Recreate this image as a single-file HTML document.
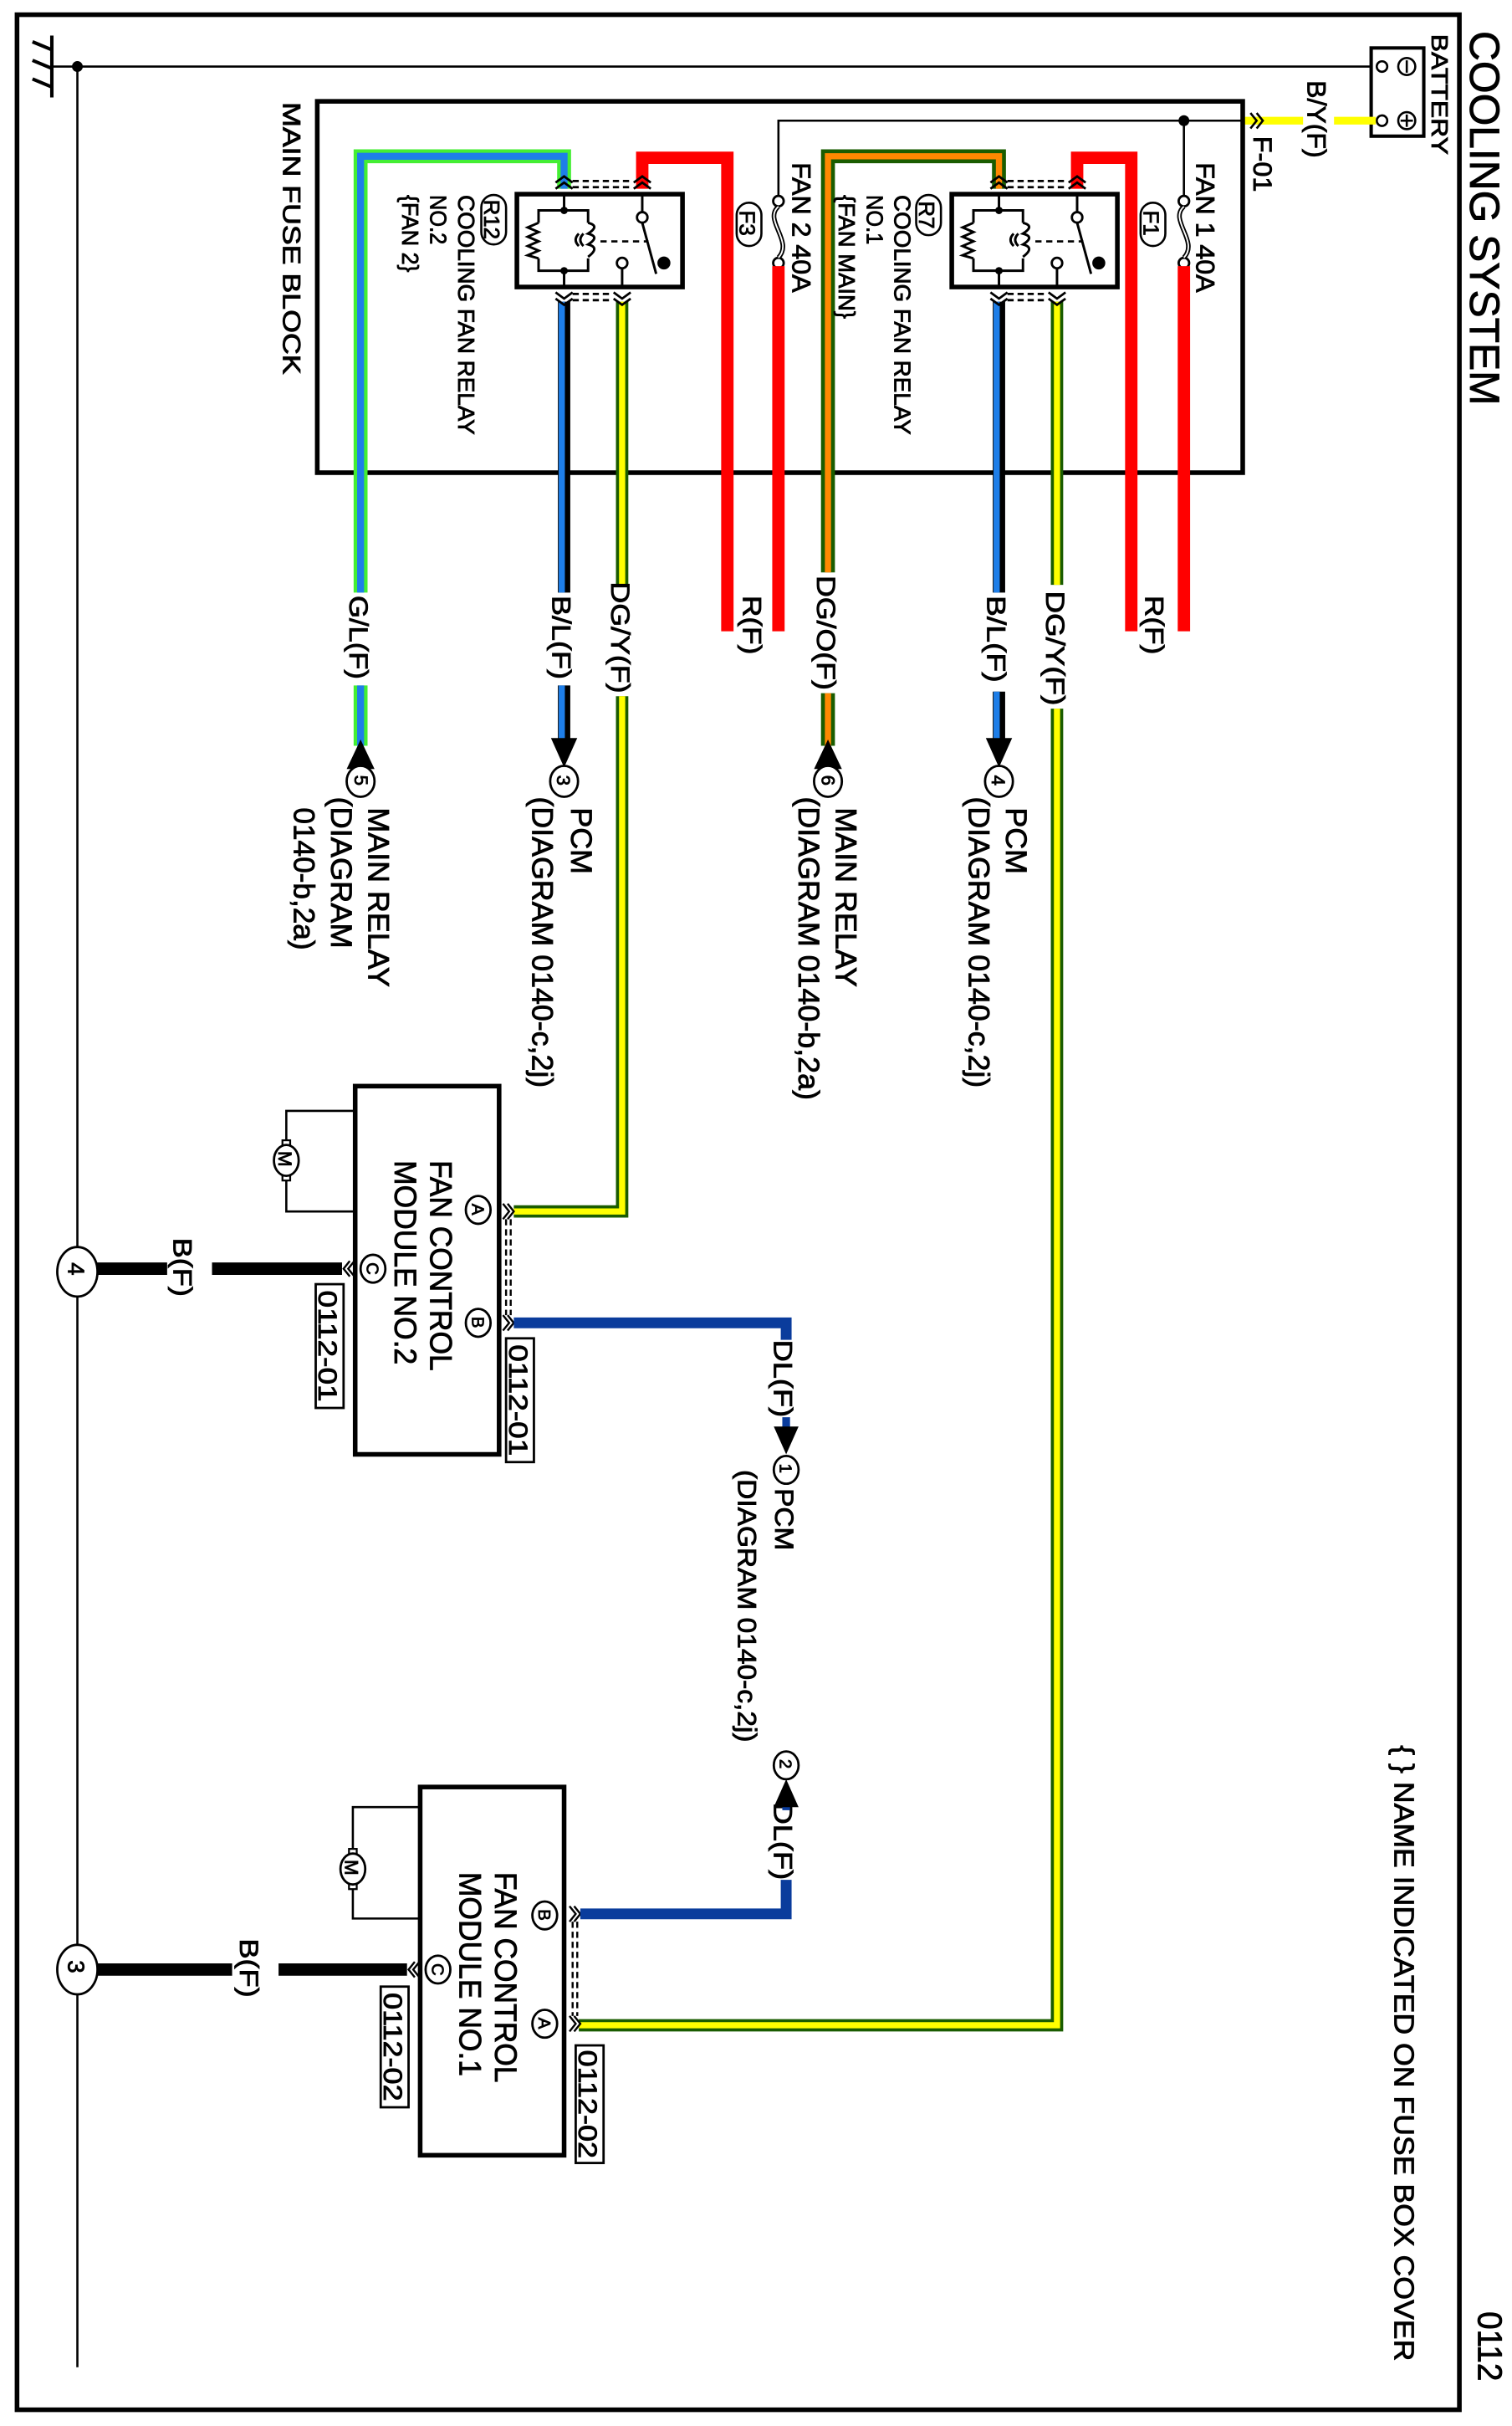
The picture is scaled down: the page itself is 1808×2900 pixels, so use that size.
<!DOCTYPE html>
<html><head><meta charset="utf-8"><style>
html,body{margin:0;padding:0;background:#fff;}
svg{display:block;}
text{font-family:"Liberation Sans",Arial,sans-serif;fill:#000;stroke:#000;stroke-width:0.45px;}
</style></head><body>
<svg width="1808" height="2900" viewBox="0 0 977 1568" preserveAspectRatio="none" xmlns="http://www.w3.org/2000/svg">
<defs>
<g id="relay">
  <rect x="615" y="125.5" width="107" height="60" fill="#fff" stroke="#000" stroke-width="3"/>
  <line x1="645.5" y1="125" x2="645.5" y2="136" stroke="#000" stroke-width="1.6"/>
  <line x1="645.5" y1="175" x2="645.5" y2="186" stroke="#000" stroke-width="1.6"/>
  <polyline points="629,144 629,136 661,136 661,144" fill="none" stroke="#000" stroke-width="1.6"/>
  <polyline points="629,167 629,175 661,175 661,167" fill="none" stroke="#000" stroke-width="1.6"/>
  <polyline points="629,144 622,147 629,150 622,153 629,156 622,159 629,162 622,165 629,167" fill="none" stroke="#000" stroke-width="1.6"/>
  <path d="M661,144 q8,2 0,7 q8,2 0,7 q8,2 0,8" fill="none" stroke="#000" stroke-width="1.6"/>
  <path d="M655,151 q-4,4 0,8 M658,151 q-4,4 0,8" fill="none" stroke="#000" stroke-width="1.6"/>
  <circle cx="645.5" cy="136" r="2.4" fill="#000"/>
  <circle cx="645.5" cy="175" r="2.4" fill="#000"/>
  <line x1="669" y1="156" x2="700" y2="156" stroke="#000" stroke-width="1.4" stroke-dasharray="4,3"/>
  <line x1="696" y1="125" x2="696" y2="137" stroke="#000" stroke-width="1.6"/>
  <circle cx="696" cy="140.5" r="3.4" fill="#fff" stroke="#000" stroke-width="1.5"/>
  <line x1="696" y1="144" x2="705" y2="177" stroke="#000" stroke-width="1.6"/>
  <circle cx="710" cy="170" r="4.2" fill="#000"/>
  <circle cx="683" cy="170" r="3.4" fill="#fff" stroke="#000" stroke-width="1.5"/>
  <line x1="683" y1="173.5" x2="683" y2="186" stroke="#000" stroke-width="1.6"/>
  <g fill="none" stroke="#000" stroke-width="1.5">
    <polyline points="640,118 645.5,114 651,118"/><polyline points="640,122 645.5,118 651,122"/>
    <polyline points="690.5,118 696,114 701.5,118"/><polyline points="690.5,122 696,118 701.5,122"/>
    <line x1="651" y1="117" x2="690" y2="117" stroke-dasharray="4,2.5"/>
    <line x1="651" y1="121" x2="690" y2="121" stroke-dasharray="4,2.5"/>
    <polyline points="640,189 645.5,193 651,189"/><polyline points="640,193 645.5,197 651,193"/>
    <polyline points="677.5,189 683,193 688.5,189"/><polyline points="677.5,193 683,197 688.5,193"/>
    <line x1="651" y1="190" x2="677" y2="190" stroke-dasharray="4,2.5"/>
    <line x1="651" y1="194" x2="677" y2="194" stroke-dasharray="4,2.5"/>
  </g>
</g>
<g id="fuse">
  <circle cx="0" cy="0" r="3.4" fill="#fff" stroke="#000" stroke-width="1.5"/>
  <circle cx="0" cy="40" r="3.4" fill="#fff" stroke="#000" stroke-width="1.5"/>
  <path d="M0,3.5 C-10,12 10,26 0,36.5" fill="none" stroke="#000" stroke-width="3"/>
  <path d="M0,3.5 C-10,12 10,26 0,36.5" fill="none" stroke="#fff" stroke-width="1"/>
</g>
</defs>

<rect x="11" y="9.5" width="932" height="1548" fill="none" stroke="#000" stroke-width="3"/>

<line x1="33.5" y1="23" x2="33.5" y2="63" stroke="#000" stroke-width="2.2"/>
<g stroke="#000" stroke-width="2.2"><line x1="21" y1="27" x2="33" y2="32"/><line x1="21" y1="39" x2="33" y2="44"/><line x1="21" y1="51" x2="33" y2="56"/></g>
<line x1="33" y1="43" x2="888" y2="43" stroke="#000" stroke-width="1.4"/>
<circle cx="50" cy="43" r="3.5" fill="#000"/>
<line x1="50" y1="43" x2="50" y2="1530" stroke="#000" stroke-width="1.4"/>

<text transform="translate(950,20) rotate(90)" font-size="27" textLength="242" lengthAdjust="spacingAndGlyphs">COOLING SYSTEM</text>
<text transform="translate(955,1494) rotate(90)" font-size="22" textLength="45" lengthAdjust="spacingAndGlyphs">0112</text>
<text transform="translate(901,1128) rotate(90)" font-size="18" textLength="398" lengthAdjust="spacingAndGlyphs">{ }  NAME INDICATED ON FUSE BOX COVER</text>

<rect x="886" y="31" width="34" height="57" fill="#fff" stroke="#000" stroke-width="2.2"/>
<text transform="translate(925,22) rotate(90)" font-size="15" textLength="78" lengthAdjust="spacingAndGlyphs">BATTERY</text>
<circle cx="893" cy="43" r="3.4" fill="#fff" stroke="#000" stroke-width="1.4"/>
<circle cx="893" cy="78" r="3.4" fill="#fff" stroke="#000" stroke-width="1.4"/>
<circle cx="909" cy="43" r="5.5" fill="none" stroke="#000" stroke-width="1.4"/>
<line x1="909" y1="39" x2="909" y2="47" stroke="#000" stroke-width="1.4"/>
<circle cx="909" cy="78" r="5.5" fill="none" stroke="#000" stroke-width="1.4"/>
<line x1="909" y1="74" x2="909" y2="82" stroke="#000" stroke-width="1.4"/><line x1="905" y1="78" x2="913" y2="78" stroke="#000" stroke-width="1.4"/>

<line x1="804" y1="78" x2="842" y2="78" stroke="#ffff00" stroke-width="5"/>
<line x1="862" y1="78" x2="889" y2="78" stroke="#ffff00" stroke-width="5"/>
<text transform="translate(845,52) rotate(90)" font-size="17" textLength="50" lengthAdjust="spacingAndGlyphs">B/Y(F)</text>
<g fill="none" stroke="#000" stroke-width="1.4"><polyline points="808,73 812,78 808,83"/><polyline points="812,73 816,78 812,83"/></g>
<text transform="translate(810,88) rotate(90)" font-size="17" textLength="36" lengthAdjust="spacingAndGlyphs">F-01</text>

<rect x="205" y="65.5" width="598" height="240" fill="none" stroke="#000" stroke-width="3"/>
<text transform="translate(183,66) rotate(90)" font-size="16" textLength="176" lengthAdjust="spacingAndGlyphs">MAIN FUSE BLOCK</text>
<polyline points="503,127 503,78 803,78" fill="none" stroke="#000" stroke-width="1.4"/>
<line x1="765" y1="78" x2="765" y2="127" stroke="#000" stroke-width="1.4"/>
<circle cx="765" cy="78" r="3.5" fill="#000"/>
<use href="#fuse" transform="translate(765,130)"/>
<use href="#fuse" transform="translate(503,130)"/>
<text transform="translate(773,105) rotate(90)" font-size="17" textLength="84" lengthAdjust="spacingAndGlyphs">FAN 1 40A</text>
<text transform="translate(512,105) rotate(90)" font-size="17" textLength="84" lengthAdjust="spacingAndGlyphs">FAN 2 40A</text>
<rect x="737" y="131" width="16" height="28" rx="8" fill="none" stroke="#000" stroke-width="1.4"/>
<text transform="translate(739,136) rotate(90)" font-size="14">F1</text>
<rect x="476" y="131" width="16" height="28" rx="8" fill="none" stroke="#000" stroke-width="1.4"/>
<text transform="translate(478,136) rotate(90)" font-size="14">F3</text>

<g fill="none" stroke="#ff0000" stroke-width="8">
  <line x1="765" y1="172" x2="765" y2="408"/>
  <polyline points="696,122 696,102 731,102 731,408"/>
  <line x1="503" y1="172" x2="503" y2="408"/>
  <polyline points="415,122 415,102 470,102 470,408"/>
</g>
<text transform="translate(740,385) rotate(90)" font-size="17" textLength="38" lengthAdjust="spacingAndGlyphs">R(F)</text>
<text transform="translate(480,385) rotate(90)" font-size="17" textLength="38" lengthAdjust="spacingAndGlyphs">R(F)</text>

<g fill="none">
  <polyline points="645.5,122 645.5,101 535,101 535,370" stroke="#1a5c00" stroke-width="9"/>
  <polyline points="645.5,122 645.5,101 535,101 535,370" stroke="#ff8800" stroke-width="4"/>
  <line x1="535" y1="448" x2="535" y2="482" stroke="#1a5c00" stroke-width="9"/>
  <line x1="535" y1="448" x2="535" y2="482" stroke="#ff8800" stroke-width="4"/>
</g>
<text transform="translate(528,372) rotate(90)" font-size="17" textLength="74" lengthAdjust="spacingAndGlyphs">DG/O(F)</text>
<g fill="none">
  <polyline points="364.5,122 364.5,101 233,101 233,383" stroke="#44ee33" stroke-width="9"/>
  <polyline points="364.5,122 364.5,101 233,101 233,383" stroke="#1e7ee8" stroke-width="4.5"/>
  <line x1="233" y1="443" x2="233" y2="482" stroke="#44ee33" stroke-width="9"/>
  <line x1="233" y1="443" x2="233" y2="482" stroke="#1e7ee8" stroke-width="4.5"/>
</g>
<text transform="translate(226,385) rotate(90)" font-size="17" textLength="54" lengthAdjust="spacingAndGlyphs">G/L(F)</text>

<g fill="none">
  <line x1="645.5" y1="195" x2="645.5" y2="383" stroke="#000" stroke-width="8"/>
  <line x1="644" y1="195" x2="644" y2="383" stroke="#1e7ee8" stroke-width="4"/>
  <line x1="645.5" y1="447" x2="645.5" y2="478" stroke="#000" stroke-width="8"/>
  <line x1="644" y1="447" x2="644" y2="478" stroke="#1e7ee8" stroke-width="4"/>
  <line x1="364.5" y1="195" x2="364.5" y2="383" stroke="#000" stroke-width="8"/>
  <line x1="363" y1="195" x2="363" y2="383" stroke="#1e7ee8" stroke-width="4"/>
  <line x1="364.5" y1="443" x2="364.5" y2="478" stroke="#000" stroke-width="8"/>
  <line x1="363" y1="443" x2="363" y2="478" stroke="#1e7ee8" stroke-width="4"/>
</g>
<text transform="translate(638,385) rotate(90)" font-size="17" textLength="56" lengthAdjust="spacingAndGlyphs">B/L(F)</text>
<text transform="translate(357,385) rotate(90)" font-size="17" textLength="54" lengthAdjust="spacingAndGlyphs">B/L(F)</text>

<g fill="none">
  <line x1="683" y1="195" x2="683" y2="378" stroke="#1a5c00" stroke-width="8"/>
  <line x1="683" y1="195" x2="683" y2="378" stroke="#ffff00" stroke-width="4"/>
  <polyline points="683,458 683,1309 374,1309" stroke="#1a5c00" stroke-width="8"/>
  <polyline points="683,458 683,1309 374,1309" stroke="#ffff00" stroke-width="4"/>
  <line x1="402" y1="195" x2="402" y2="378" stroke="#1a5c00" stroke-width="8"/>
  <line x1="402" y1="195" x2="402" y2="378" stroke="#ffff00" stroke-width="4"/>
  <polyline points="402,450 402,783 332,783" stroke="#1a5c00" stroke-width="8"/>
  <polyline points="402,450 402,783 332,783" stroke="#ffff00" stroke-width="4"/>
</g>
<text transform="translate(676,382) rotate(90)" font-size="17" textLength="74" lengthAdjust="spacingAndGlyphs">DG/Y(F)</text>
<text transform="translate(395,376) rotate(90)" font-size="17" textLength="72" lengthAdjust="spacingAndGlyphs">DG/Y(F)</text>

<use href="#relay"/>
<use href="#relay" transform="translate(-281,0)"/>
<rect x="592" y="126" width="16" height="26" rx="8" fill="none" stroke="#000" stroke-width="1.4"/>
<text transform="translate(594,130) rotate(90)" font-size="14">R7</text>
<text transform="translate(578,126) rotate(90)" font-size="15" textLength="155" lengthAdjust="spacingAndGlyphs">COOLING FAN RELAY</text>
<text transform="translate(560,126) rotate(90)" font-size="15" textLength="32" lengthAdjust="spacingAndGlyphs">NO.1</text>
<text transform="translate(542,126) rotate(90)" font-size="15" textLength="80" lengthAdjust="spacingAndGlyphs">{FAN MAIN}</text>
<rect x="311" y="126" width="16" height="32" rx="8" fill="none" stroke="#000" stroke-width="1.4"/>
<text transform="translate(313,129) rotate(90)" font-size="14">R12</text>
<text transform="translate(296,126) rotate(90)" font-size="15" textLength="155" lengthAdjust="spacingAndGlyphs">COOLING FAN RELAY</text>
<text transform="translate(278,126) rotate(90)" font-size="15" textLength="32" lengthAdjust="spacingAndGlyphs">NO.2</text>
<text transform="translate(260,126) rotate(90)" font-size="15" textLength="50" lengthAdjust="spacingAndGlyphs">{FAN 2}</text>

<g fill="#000">
  <polygon points="637,477 654,477 645.5,496"/>
  <polygon points="356,477 373,477 364.5,496"/>
  <polygon points="535,478 526,497 544,497"/>
  <polygon points="233,478 224,497 242,497"/>
</g>
<g fill="#fff" stroke="#000" stroke-width="1.5">
  <ellipse cx="645.5" cy="505" rx="9" ry="10"/>
  <ellipse cx="364.5" cy="505" rx="9" ry="10"/>
  <ellipse cx="535" cy="505" rx="9" ry="10"/>
  <ellipse cx="233" cy="505" rx="9" ry="10"/>
</g>
<g font-size="12">
  <text transform="translate(641,501) rotate(90)">4</text>
  <text transform="translate(360,501) rotate(90)">3</text>
  <text transform="translate(531,501) rotate(90)">6</text>
  <text transform="translate(229,501) rotate(90)">5</text>
</g>
<g font-size="19">
  <text transform="translate(650,522) rotate(90)" textLength="43" lengthAdjust="spacingAndGlyphs">PCM</text>
  <text transform="translate(626,515) rotate(90)" textLength="188" lengthAdjust="spacingAndGlyphs">(DIAGRAM  0140-c,2j)</text>
  <text transform="translate(369,522) rotate(90)" textLength="43" lengthAdjust="spacingAndGlyphs">PCM</text>
  <text transform="translate(344,515) rotate(90)" textLength="188" lengthAdjust="spacingAndGlyphs">(DIAGRAM  0140-c,2j)</text>
  <text transform="translate(540,522) rotate(90)" textLength="116" lengthAdjust="spacingAndGlyphs">MAIN RELAY</text>
  <text transform="translate(516,515) rotate(90)" textLength="196" lengthAdjust="spacingAndGlyphs">(DIAGRAM  0140-b,2a)</text>
  <text transform="translate(238,522) rotate(90)" textLength="116" lengthAdjust="spacingAndGlyphs">MAIN RELAY</text>
  <text transform="translate(214,515) rotate(90)" textLength="98" lengthAdjust="spacingAndGlyphs">(DIAGRAM</text>
  <text transform="translate(190,522) rotate(90)" textLength="92" lengthAdjust="spacingAndGlyphs">0140-b,2a)</text>
</g>

<rect x="229.5" y="702" width="93" height="238" fill="#fff" stroke="#000" stroke-width="3"/>
<polyline points="229,718 185,718 185,740" fill="none" stroke="#000" stroke-width="1.4"/>
<polyline points="185,760 185,783 229,783" fill="none" stroke="#000" stroke-width="1.4"/>
<rect x="182.5" y="737" width="5" height="4" fill="#fff" stroke="#000" stroke-width="1.2"/>
<rect x="182.5" y="759" width="5" height="4" fill="#fff" stroke="#000" stroke-width="1.2"/>
<ellipse cx="185" cy="750" rx="8" ry="10" fill="#fff" stroke="#000" stroke-width="1.5"/>
<text transform="translate(180,744) rotate(90)" font-size="12">M</text>
<text transform="translate(278,750) rotate(90)" font-size="20" textLength="136" lengthAdjust="spacingAndGlyphs">FAN CONTROL</text>
<text transform="translate(255,750) rotate(90)" font-size="20" textLength="132" lengthAdjust="spacingAndGlyphs">MODULE NO.2</text>
<g fill="#fff" stroke="#000" stroke-width="1.5">
  <ellipse cx="309" cy="782" rx="8" ry="9"/><ellipse cx="241" cy="820" rx="8" ry="9"/><ellipse cx="309" cy="855" rx="8" ry="9"/>
</g>
<g font-size="11"><text transform="translate(305,778) rotate(90)">A</text><text transform="translate(237,816) rotate(90)">C</text><text transform="translate(305,851) rotate(90)">B</text></g>
<g fill="none" stroke="#000" stroke-width="1.3">
  <polyline points="325,778 329,783 325,788"/><polyline points="328,778 332,783 328,788"/>
  <polyline points="325,850 329,855 325,860"/><polyline points="328,850 332,855 328,860"/>
  <line x1="327" y1="788" x2="327" y2="850" stroke-dasharray="4,2.5"/><line x1="330" y1="788" x2="330" y2="850" stroke-dasharray="4,2.5"/>
  <polyline points="229,815 225,820 229,825"/><polyline points="226,815 222,820 226,825"/>
</g>
<polyline points="332,855 508,855 508,866" fill="none" stroke="#0a3c9c" stroke-width="7"/>
<text transform="translate(500,866) rotate(90)" font-size="17" textLength="50" lengthAdjust="spacingAndGlyphs">DL(F)</text>
<line x1="508" y1="916" x2="508" y2="925" stroke="#0a3c9c" stroke-width="5"/>
<polygon points="500,922 516,922 508,940" fill="#000"/>
<ellipse cx="508" cy="950" rx="8" ry="9" fill="#fff" stroke="#000" stroke-width="1.5"/>
<text transform="translate(504,946) rotate(90)" font-size="11">1</text>
<text transform="translate(501,962) rotate(90)" font-size="17" textLength="40" lengthAdjust="spacingAndGlyphs">PCM</text>
<text transform="translate(477,950) rotate(90)" font-size="17" textLength="176" lengthAdjust="spacingAndGlyphs">(DIAGRAM 0140-c,2j)</text>
<line x1="62" y1="820" x2="108" y2="820" stroke="#000" stroke-width="8"/>
<line x1="137" y1="820" x2="221" y2="820" stroke="#000" stroke-width="8"/>
<text transform="translate(112,800) rotate(90)" font-size="17" textLength="38" lengthAdjust="spacingAndGlyphs">B(F)</text>
<ellipse cx="50" cy="822" rx="13" ry="16" fill="#fff" stroke="#000" stroke-width="1.5"/>
<text transform="translate(44,816) rotate(90)" font-size="15">4</text>
<rect x="204" y="830" width="18" height="80" fill="#fff" stroke="#000" stroke-width="1.5"/>
<text transform="translate(206,834) rotate(90)" font-size="17" textLength="72" lengthAdjust="spacingAndGlyphs">0112-01</text>
<rect x="327" y="865" width="18" height="80" fill="#fff" stroke="#000" stroke-width="1.5"/>
<text transform="translate(329,869) rotate(90)" font-size="17" textLength="72" lengthAdjust="spacingAndGlyphs">0112-01</text>

<rect x="271.5" y="1155" width="93" height="238" fill="#fff" stroke="#000" stroke-width="3"/>
<polyline points="271,1168 228,1168 228,1198" fill="none" stroke="#000" stroke-width="1.4"/>
<polyline points="228,1218 228,1240 271,1240" fill="none" stroke="#000" stroke-width="1.4"/>
<rect x="225.5" y="1195" width="5" height="4" fill="#fff" stroke="#000" stroke-width="1.2"/>
<rect x="225.5" y="1217" width="5" height="4" fill="#fff" stroke="#000" stroke-width="1.2"/>
<ellipse cx="228" cy="1208" rx="8" ry="10" fill="#fff" stroke="#000" stroke-width="1.5"/>
<text transform="translate(223,1202) rotate(90)" font-size="12">M</text>
<text transform="translate(320,1210) rotate(90)" font-size="20" textLength="136" lengthAdjust="spacingAndGlyphs">FAN CONTROL</text>
<text transform="translate(297,1210) rotate(90)" font-size="20" textLength="132" lengthAdjust="spacingAndGlyphs">MODULE NO.1</text>
<g fill="#fff" stroke="#000" stroke-width="1.5">
  <ellipse cx="352" cy="1238" rx="8" ry="9"/><ellipse cx="283" cy="1273" rx="8" ry="9"/><ellipse cx="352" cy="1308" rx="8" ry="9"/>
</g>
<g font-size="11"><text transform="translate(348,1234) rotate(90)">B</text><text transform="translate(279,1269) rotate(90)">C</text><text transform="translate(348,1304) rotate(90)">A</text></g>
<g fill="none" stroke="#000" stroke-width="1.3">
  <polyline points="368,1232 372,1237 368,1242"/><polyline points="371,1232 375,1237 371,1242"/>
  <polyline points="368,1303 372,1308 368,1313"/><polyline points="371,1303 375,1308 371,1313"/>
  <line x1="370" y1="1242" x2="370" y2="1303" stroke-dasharray="4,2.5"/><line x1="373" y1="1242" x2="373" y2="1303" stroke-dasharray="4,2.5"/>
  <polyline points="271,1268 267,1273 271,1278"/><polyline points="268,1268 264,1273 268,1278"/>
</g>
<polyline points="375,1237 508,1237 508,1215" fill="none" stroke="#0a3c9c" stroke-width="7"/>
<text transform="translate(500,1165) rotate(90)" font-size="17" textLength="50" lengthAdjust="spacingAndGlyphs">DL(F)</text>
<line x1="508" y1="1160" x2="508" y2="1170" stroke="#0a3c9c" stroke-width="5"/>
<polygon points="500,1168 516,1168 508,1150" fill="#000"/>
<ellipse cx="508" cy="1141" rx="8" ry="9" fill="#fff" stroke="#000" stroke-width="1.5"/>
<text transform="translate(504,1137) rotate(90)" font-size="11">2</text>
<line x1="62" y1="1273" x2="150" y2="1273" stroke="#000" stroke-width="8"/>
<line x1="180" y1="1273" x2="263" y2="1273" stroke="#000" stroke-width="8"/>
<text transform="translate(155,1253) rotate(90)" font-size="17" textLength="38" lengthAdjust="spacingAndGlyphs">B(F)</text>
<ellipse cx="50" cy="1273" rx="13" ry="16" fill="#fff" stroke="#000" stroke-width="1.5"/>
<text transform="translate(44,1267) rotate(90)" font-size="15">3</text>
<rect x="246" y="1284" width="18" height="78" fill="#fff" stroke="#000" stroke-width="1.5"/>
<text transform="translate(248,1288) rotate(90)" font-size="17" textLength="70" lengthAdjust="spacingAndGlyphs">0112-02</text>
<rect x="372" y="1322" width="18" height="76" fill="#fff" stroke="#000" stroke-width="1.5"/>
<text transform="translate(374,1325) rotate(90)" font-size="17" textLength="70" lengthAdjust="spacingAndGlyphs">0112-02</text>
</svg>
</body></html>
